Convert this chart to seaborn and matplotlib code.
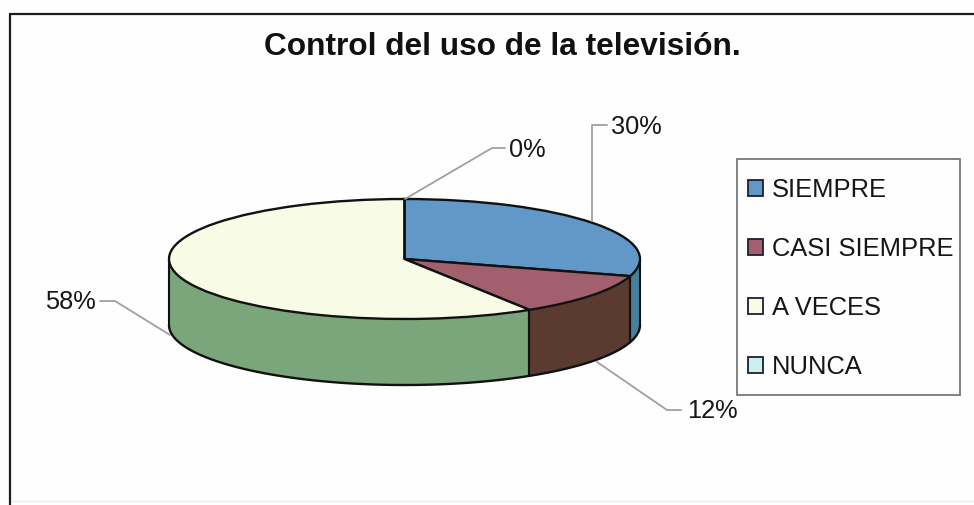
import numpy as np
import matplotlib
matplotlib.use("Agg")
import matplotlib.pyplot as plt
import seaborn as sns
from matplotlib.lines import Line2D
from matplotlib.patches import Rectangle

categories = ["SIEMPRE", "CASI SIEMPRE", "A VECES", "NUNCA"]
# slice widths, the printed labels are rounded
shares = [29.6, 11.5, 58.9, 0.0]
pct_labels = ["30%", "12%", "58%", "0%"]
title = "Control del uso de la televisión."

top_colors = ["#6198c8", "#a2606e", "#f8fce6", "#cdeeee"]
side_colors = ["#47809c", "#5b3b30", "#7ba67c", "#9cc0c0"]

W, H = 974, 505
DEPTH = 66 / 60  # wall height in units of the squashed pie radius

sns.set_theme(style="white")
plt.rcParams["font.family"] = ["Liberation Sans", "DejaVu Sans"]


def px(x, y):
    return x / W, 1 - y / H


def fig_line(xs, ys, **kw):
    fig.add_artist(Line2D([x / W for x in xs], [1 - y / H for y in ys], **kw))


fig = plt.figure(figsize=(W / 100, H / 100), dpi=100, facecolor="#fefefe")

# chart frame, the scan cuts it off on the right
fig_line([12, 974], [501, 501], color="#ececec", lw=1.0)
fig_line([10, 974], [14, 14], color="#1c1c1c", lw=1.6)
fig_line([10, 10], [14, 505], color="#1c1c1c", lw=1.6)

left, right, top, bottom = 169, 640, 199, 319 + 66
ax = fig.add_axes([left / W, 1 - bottom / H, (right - left) / W, (bottom - top) / H])
ax.axis("off")

# side wall, only the front half of the disc shows
fracs = np.cumsum([0] + shares) / sum(shares) * 360
for start, stop, color in zip(fracs[:-1], fracs[1:], side_colors):
    lo, hi = max(start, 90), min(stop, 270)
    if hi <= lo:
        continue
    t = np.radians(np.linspace(lo, hi, 120))
    ax.fill_between(np.sin(t), np.cos(t), np.cos(t) - DEPTH, color=color, linewidth=0, zorder=1)
    ax.plot(np.sin(t), np.cos(t) - DEPTH, color="#111111", lw=1.7, zorder=2, clip_on=False)
    for edge in (t[0], t[-1]):
        ax.plot([np.sin(edge)] * 2, [np.cos(edge), np.cos(edge) - DEPTH], color="#111111", lw=1.5, zorder=2, clip_on=False)

wedges, _ = ax.pie(shares, colors=sns.color_palette(top_colors), startangle=90, counterclock=False,
                   wedgeprops={"edgecolor": "#111111", "linewidth": 1.7, "zorder": 3})
ax.set_aspect("auto")
ax.set_xlim(-1, 1)
ax.set_ylim(-1 - DEPTH, 1)

fig.text(*px(502, 55), title, ha="center", va="baseline", fontsize=22.8, fontweight="bold", color="#111111")

# leader lines and percent labels
leaders = [
    ([592, 592, 607], [221, 125, 125], (611, 134), "left"),
    ([597, 667, 681], [362, 410, 410], (687, 418), "left"),
    ([170, 115, 100], [335, 301, 301], (96, 309), "right"),
    ([405, 492, 505], [199, 148, 148], (509, 157), "left"),
]
for (xs, ys, pos, ha), label in zip(leaders, pct_labels):
    fig_line(xs, ys, color="#a0a0a0", lw=1.3)
    fig.text(*px(*pos), label, ha=ha, va="baseline", fontsize=18.3, color="#161616")

# legend box
fig.add_artist(Rectangle(px(737, 395), 223 / W, 236 / H, transform=fig.transFigure,
                         facecolor="#fefefe", edgecolor="#777777", linewidth=1.3))
handles = [Rectangle((0, 0), 1, 1, facecolor=c, edgecolor="#1a2030", linewidth=1.3) for c in top_colors]
leg = fig.legend(handles, categories, loc="upper left", bbox_to_anchor=px(748, 178), borderaxespad=0,
                 fontsize=18.4, frameon=False, labelspacing=1.37, handlelength=0.6, handleheight=0.6,
                 handletextpad=0.32, borderpad=0, labelcolor="#161616")

fig.savefig("out.png", dpi=100)
